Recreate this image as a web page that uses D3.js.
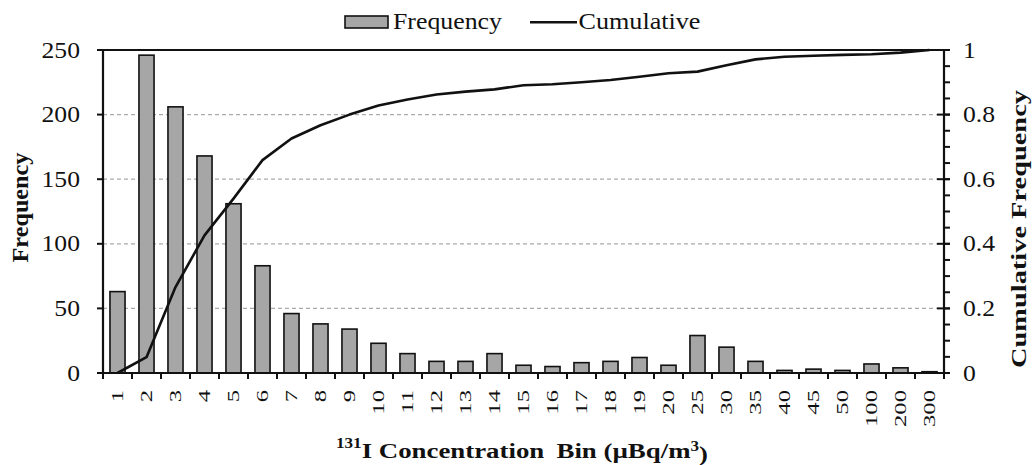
<!DOCTYPE html>
<html>
<head>
<meta charset="utf-8">
<script src="https://cdn.jsdelivr.net/npm/d3@7"></script>
<style>
  html, body { margin: 0; padding: 0; background: #fff; }
  svg { display: block; }
  text { font-family: "Times New Roman", Times, "Liberation Serif", Tinos, "Nimbus Roman", serif; fill: #111; }
</style>
</head>
<body>
<svg id="chart" width="1036" height="465"></svg>
<script>
// Concentration bins (µBq/m³)
const categories = ["1","2","3","4","5","6","7","8","9","10","11","12","13","14","15","16","17","18","19","20","25","30","35","40","45","50","100","200","300"];
// Number of samples per bin
const frequency = [63,246,206,168,131,83,46,38,34,23,15,9,9,15,6,5,8,9,12,6,29,20,9,2,3,2,7,4,1];
// Cumulative frequency at each bin
const cumulative = [0,0.049,0.266,0.426,0.540,0.659,0.726,0.767,0.800,0.828,0.847,0.862,0.871,0.878,0.891,0.894,0.900,0.907,0.917,0.928,0.933,0.953,0.971,0.979,0.982,0.985,0.987,0.992,1.0];
// Axis tick values
const leftTicks = [0,50,100,150,200,250];
const gridTicks = [50,100,150,200];
const rightMajor = [0,0.2,0.4,0.6,0.8,1];
const rightMinor = d3.range(0, 1.0001, 0.05);

const svg = d3.select("#chart");
const L = 103, R = 944, T = 50, B = 373;
const FS = 22.5;          // base font size
const HS = 1.14;          // horizontal stretch of regular labels

// scale a text element along its baseline so its advance equals `len`
function stretchTo(sel, base, len) {
  const w = sel.node().getComputedTextLength();
  const k = w > 0 ? len / w : 1;
  sel.attr("transform", `${base} scale(${k},1)`);
}

const x = d3.scaleBand().domain(categories).range([L, R]).paddingInner(0.48).paddingOuter(0.24);
const xi = d3.scaleLinear().domain([0, categories.length]).range([L, R]);
const y = d3.scaleLinear().domain([0, 250]).range([B, T]);
const y2 = d3.scaleLinear().domain([0, 1]).range([B, T]);

svg.append("rect").attr("width", 1036).attr("height", 465).attr("fill", "#fff");

// dashed gridlines
svg.append("g").selectAll("line").data(gridTicks).join("line")
  .attr("x1", L).attr("x2", R)
  .attr("y1", d => y(d)).attr("y2", d => y(d))
  .attr("stroke", "#aaaaaa").attr("stroke-width", 1.2).attr("stroke-dasharray", "4,3");

// bars
svg.append("g").selectAll("rect").data(frequency).join("rect")
  .attr("x", (d, i) => x(categories[i]))
  .attr("y", d => y(d))
  .attr("width", x.bandwidth())
  .attr("height", d => y(0) - y(d))
  .attr("fill", "#a6a6a6").attr("stroke", "#111").attr("stroke-width", 1.6);

// cumulative line
const line = d3.line()
  .x((d, i) => x(categories[i]) + x.bandwidth() / 2)
  .y(d => y2(d));
svg.append("path").datum(cumulative)
  .attr("d", line).attr("fill", "none")
  .attr("stroke", "#111").attr("stroke-width", 2.6).attr("stroke-linejoin", "round");

// frame lines
const frame = svg.append("g").attr("stroke", "#111").attr("stroke-width", 2.2);
frame.append("line").attr("x1", L).attr("x2", R).attr("y1", T).attr("y2", T);
frame.append("line").attr("x1", L).attr("x2", R).attr("y1", B).attr("y2", B);
frame.append("line").attr("x1", L).attr("x2", L).attr("y1", T).attr("y2", B);
frame.append("line").attr("x1", R).attr("x2", R).attr("y1", T).attr("y2", B);

// x ticks at bin boundaries
svg.append("g").selectAll("line").data(d3.range(categories.length + 1)).join("line")
  .attr("x1", d => xi(d)).attr("x2", d => xi(d))
  .attr("y1", B).attr("y2", B + 6)
  .attr("stroke", "#111").attr("stroke-width", 2);

// x tick labels (rotated)
svg.append("g").selectAll("text").data(categories).join("text")
  .attr("transform", d => `translate(${x(d) + x.bandwidth() / 2},390) rotate(-90) scale(1.45,1)`)
  .attr("text-anchor", "end").attr("dy", "0.34em")
  .style("font-size", "17px")
  .text(d => d);

// left axis ticks and labels
svg.append("g").selectAll("line").data(leftTicks).join("line")
  .attr("x1", L - 6).attr("x2", L).attr("y1", d => y(d)).attr("y2", d => y(d))
  .attr("stroke", "#111").attr("stroke-width", 2);
svg.append("g").selectAll("text").data(leftTicks).join("text")
  .attr("transform", d => `translate(80,${y(d)}) scale(${HS},1)`)
  .attr("text-anchor", "end").attr("dy", "0.34em")
  .style("font-size", FS + "px")
  .text(d => d);

// right axis ticks and labels
svg.append("g").selectAll("line").data(rightMinor).join("line")
  .attr("x1", R).attr("x2", R + 6).attr("y1", d => y2(d)).attr("y2", d => y2(d))
  .attr("stroke", "#111").attr("stroke-width", 2);
svg.append("g").selectAll("line").data(rightMajor).join("line")
  .attr("x1", R - 7).attr("x2", R + 6).attr("y1", d => y2(d)).attr("y2", d => y2(d))
  .attr("stroke", "#111").attr("stroke-width", 2);
svg.append("g").selectAll("text").data(rightMajor).join("text")
  .attr("transform", d => `translate(963,${y2(d)}) scale(${HS},1)`)
  .attr("text-anchor", "start").attr("dy", "0.34em")
  .style("font-size", FS + "px")
  .text(d => d3.format("~g")(d));

// axis titles
const yTitle = svg.append("text")
  .attr("text-anchor", "middle").attr("dy", "0.23em")
  .style("font-size", "23.5px").style("font-weight", "bold")
  .text("Frequency");
stretchTo(yTitle, "translate(22.5,207.5) rotate(-90)", 110);

svg.append("text")
  .attr("transform", "translate(1021,229) rotate(-90)")
  .attr("text-anchor", "middle").attr("dy", "0.23em")
  .attr("textLength", 278).attr("lengthAdjust", "spacingAndGlyphs")
  .style("font-size", "20.5px").style("font-weight", "bold")
  .text("Cumulative Frequency");

const xt = svg.append("text")
  .attr("text-anchor", "middle")
  .style("font-size", "22px").style("font-weight", "bold");
xt.append("tspan").attr("dy", "-0.45em").style("font-size", "14px").text("131");
xt.append("tspan").attr("dy", "0.45em").text("I Concentration");
xt.append("tspan").attr("dx", 10).text("Bin (µBq/m");
xt.append("tspan").attr("dy", "-0.45em").style("font-size", "14px").text("3");
xt.append("tspan").attr("dy", "0.45em").text(")");
stretchTo(xt, "translate(522,454)", 360);

// legend
const lg = svg.append("g");
lg.append("rect").attr("x", 345).attr("y", 16).attr("width", 43).attr("height", 12)
  .attr("fill", "#a6a6a6").attr("stroke", "#111").attr("stroke-width", 1.6);
stretchTo(lg.append("text").style("font-size", FS + "px").text("Frequency"),
  "translate(393,28.5)", 109);
lg.append("line").attr("x1", 530).attr("x2", 577).attr("y1", 22.3).attr("y2", 22.3)
  .attr("stroke", "#111").attr("stroke-width", 2.6);
stretchTo(lg.append("text").style("font-size", FS + "px").text("Cumulative"),
  "translate(578.5,28.5)", 122);
</script>
</body>
</html>
